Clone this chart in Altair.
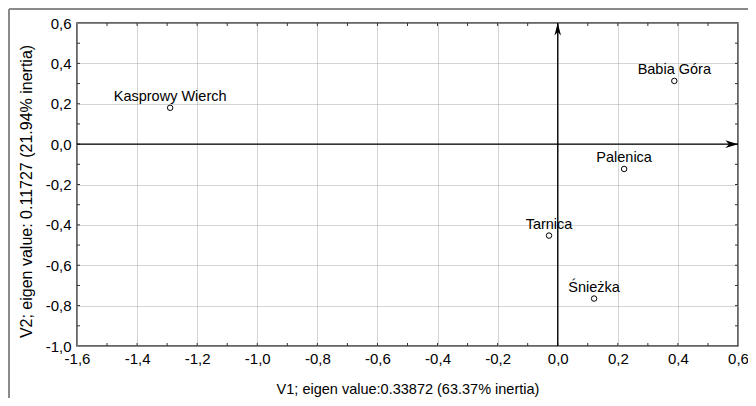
import altair as alt
import pandas as pd

# ---- data ----
sites = ["Kasprowy Wierch", "Babia Góra", "Palenica", "Tarnica", "Śnieżka"]
v1 = [-1.29, 0.388, 0.221, -0.029, 0.121]
v2 = [0.18, 0.313, -0.123, -0.453, -0.765]

x_major = [-1.6, -1.4, -1.2, -1.0, -0.8, -0.6, -0.4, -0.2, 0.0, 0.2, 0.4, 0.6]
y_major = [-1.0, -0.8, -0.6, -0.4, -0.2, 0.0, 0.2, 0.4, 0.6]
x_minor = [-1.5, -1.4, -1.3, -1.2, -1.1, -1.0, -0.9, -0.8, -0.7, -0.6, -0.5,
           -0.4, -0.3, -0.2, -0.1, 0.0, 0.1, 0.2, 0.3, 0.4, 0.5]
y_minor = [-0.9, -0.8, -0.7, -0.6, -0.5, -0.4, -0.3, -0.2, -0.1, 0.0,
           0.1, 0.2, 0.3, 0.4, 0.5]

x_domain = [-1.6, 0.6]
y_domain = [-1.0, 0.6]

x_title = "V1; eigen value:0.33872 (63.37% inertia)"
y_title = "V2; eigen value: 0.11727 (21.94% inertia)"

FONT = "Liberation Sans"
W, H = 661, 323

pts = pd.DataFrame({"site": sites, "x": v1, "y": v2})
xt = pd.DataFrame({"x": x_minor})
yt = pd.DataFrame({"y": y_minor})

label_expr = ("(datum.value < -0.00001 ? '-' : '') + "
              "replace(format(abs(datum.value), '.1f'), '.', ',')")

xs = alt.Scale(domain=x_domain, nice=False, zero=False)
ys = alt.Scale(domain=y_domain, nice=False, zero=False)

grid_style = dict(grid=True, gridDash=[1, 1], gridColor="#a8a8a8", gridWidth=1)

x_axis = alt.Axis(values=x_major, labelExpr=label_expr, ticks=False, domain=False,
                  labelFont=FONT, labelFontSize=15, labelColor="black",
                  labelPadding=5, labelFlush=False, labelOverlap=False,
                  title=x_title, titleFont=FONT, titleFontSize=14.5,
                  titleFontWeight="normal", titleColor="black",
                  titleY=43, titleBaseline="middle", **grid_style)
y_axis = alt.Axis(values=y_major, labelExpr=label_expr, ticks=False, domain=False,
                  labelFont=FONT, labelFontSize=15, labelColor="black",
                  labelPadding=6, labelFlush=False, labelOverlap=False,
                  title=y_title, titleFont=FONT, titleFontSize=16,
                  titleFontWeight="normal", titleColor="black",
                  titleX=-51, titleY=168, titleAngle=270,
                  titleBaseline="middle", titleAlign="center", **grid_style)

X = alt.X("x:Q", scale=xs, axis=x_axis)
Y = alt.Y("y:Q", scale=ys, axis=y_axis)

base = alt.Chart(pts)

points = base.mark_point(shape="circle", filled=True, fill="white",
                         stroke="black", strokeWidth=1, size=30, opacity=1).encode(x=X, y=Y)

labels = base.mark_text(font=FONT, fontSize=14.5, color="black", dy=-7,
                        baseline="alphabetic", align="center").encode(
    x=X, y=Y, text="site:N")

# main axes through the origin
vaxis = alt.Chart(pd.DataFrame({"x": [0.0], "y": [y_domain[0]], "y2": [y_domain[1]]})).mark_rule(
    color="black", strokeWidth=1.3).encode(x=X, y=Y, y2="y2:Q")
haxis = alt.Chart(pd.DataFrame({"y": [0.0], "x": [x_domain[0]], "x2": [x_domain[1]]})).mark_rule(
    color="black", strokeWidth=1.3).encode(y=Y, x=X, x2="x2:Q")
up_head = alt.Chart(pd.DataFrame({"x": [0.0], "y": [y_domain[1]]})).mark_point(
    shape="M0,0 L-0.55,2.1 L0,1.5 L0.55,2.1 Z", filled=True, color="black",
    size=144, opacity=1).encode(x=X, y=Y)
right_head = alt.Chart(pd.DataFrame({"x": [x_domain[1]], "y": [0.0]})).mark_point(
    shape="M0,0 L-2.1,-0.65 L-1.5,0 L-2.1,0.65 Z", filled=True, color="black",
    size=144, opacity=1).encode(x=X, y=Y)

# inward ticks on all four sides
tick_style = dict(color="#333333", strokeWidth=1)
xt_bottom = alt.Chart(xt).mark_rule(**tick_style).encode(
    x=X, y=alt.value(H), y2=alt.value(H - 3))
xt_top = alt.Chart(xt).mark_rule(**tick_style).encode(
    x=X, y=alt.value(0), y2=alt.value(3))
yt_left = alt.Chart(yt).mark_rule(**tick_style).encode(
    y=Y, x=alt.value(0), x2=alt.value(3))
yt_right = alt.Chart(yt).mark_rule(**tick_style).encode(
    y=Y, x=alt.value(W), x2=alt.value(W - 3))

# outer figure frame (left and top edges)
frame_left = alt.Chart(pts).mark_rule(color="#8a8a8a", strokeWidth=2).encode(
    x=alt.value(-68), y=alt.value(-14), y2=alt.value(H + 60))
frame_top = alt.Chart(pts).mark_rule(color="#8a8a8a", strokeWidth=2).encode(
    x=alt.value(-68), x2=alt.value(W + 20), y=alt.value(-14))

chart = alt.layer(
    points, frame_left, frame_top,
    xt_bottom, xt_top, yt_left, yt_right,
    vaxis, haxis, up_head, right_head, labels,
).properties(
    width=W, height=H,
    autosize=alt.AutoSizeParams(type="none"),
    padding={"left": 69, "top": 15, "right": 10, "bottom": 52},
    background="white",
).configure_view(
    stroke="#333333", strokeWidth=1.5
)

chart.save("out.html", embed_options={"renderer": "svg", "actions": False})
